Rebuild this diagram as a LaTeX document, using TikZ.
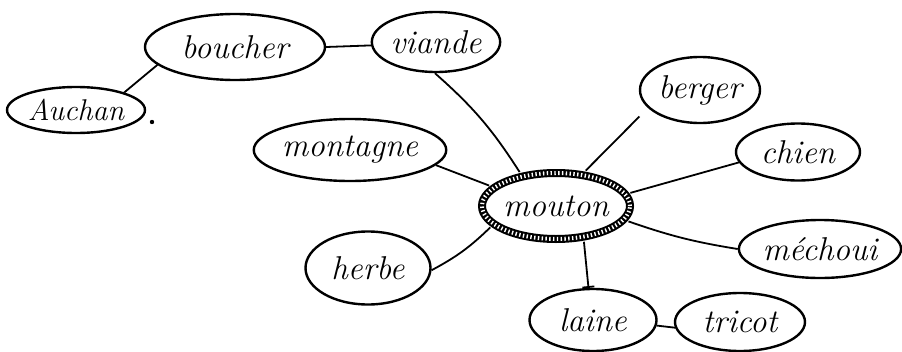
\documentclass[tikz,border=0pt]{standalone}
\usetikzlibrary{shapes.geometric,arrows.meta}
\begin{document}
\begin{tikzpicture}[x=1pt,y=-1pt,
  bubble/.style={ellipse,draw,line width=2.4pt,inner sep=0pt,
    font=\fontsize{33}{35}\selectfont\itshape},
  link/.style={line width=1.8pt}]
\useasboundingbox (0,0) rectangle (902,351);
% nodes
\node[bubble,draw=none,minimum width=156pt,minimum height=74pt] (mouton) at (556,206) {mouton};
\draw[line width=8pt] (mouton.center) ellipse [x radius=74pt, y radius=33pt];
\draw[white,line width=4pt,dash pattern=on 1.4pt off 2.4pt] (mouton.center) ellipse [x radius=74pt, y radius=33pt];
\node[bubble,minimum width=128pt,minimum height=60pt] (viande) at (436,42) {viande};
\node[bubble,minimum width=180pt,minimum height=66pt] (boucher) at (235,47) {boucher};
\node[bubble,minimum width=138pt,minimum height=46pt,
  font=\fontsize{30}{32}\selectfont\itshape] (auchan) at (76,110) {Auchan};
\node[bubble,minimum width=157pt,minimum height=62pt] (montagne) at (350,150) {montagne};
\node[bubble,minimum width=125pt,minimum height=73pt] (herbe) at (368,268) {herbe};
\node[bubble,minimum width=120pt,minimum height=66pt] (berger) at (700,90) {berger};
\node[bubble,minimum width=124pt,minimum height=57pt] (chien) at (798,152) {chien};
\node[bubble,minimum width=150pt,minimum height=58pt] (mechoui) at (820,249) {méchoui};
\node[bubble,minimum width=127pt,minimum height=62pt] (laine) at (593,320) {laine};
\node[bubble,minimum width=130pt,minimum height=58pt] (tricot) at (740,322) {tricot};
\fill (152,122) circle (2.2pt);
% connectors
\draw[link] (boucher.0) -- (viande.183);
\draw[link] (boucher.193) -- (auchan.20);
\draw[link] (viande.-92) to[bend left=8] (mouton.137);
\draw[link] (montagne.-10) -- (mouton.163);
\draw[link] (herbe.-2) to[bend right=8] (mouton.198);
\draw[link,shorten >=12pt] (mouton.50) -- (berger.199);
\draw[link] (mouton.10) -- (chien.190);
\draw[link] (mouton.-12) to[bend right=5] (mechoui.180);
\draw[link,-{Bar[width=12pt,line width=1.8pt]}] (mouton.-52) -- (laine.98);
\draw[link] (laine.-5) -- (tricot.185);
\end{tikzpicture}
\end{document}
